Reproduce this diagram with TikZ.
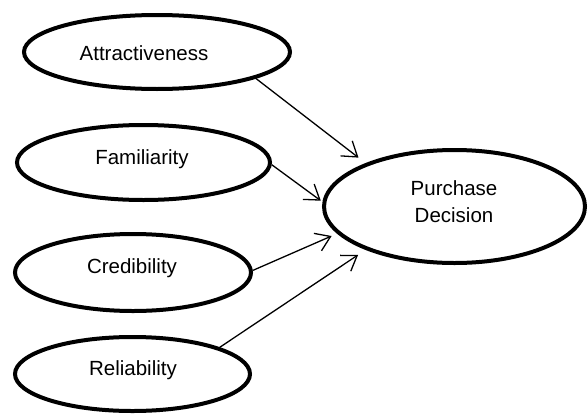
\documentclass[tikz,border=0pt]{standalone}
\usepackage{fontspec}
\setmainfont{Liberation Sans}
\usetikzlibrary{shapes.geometric,arrows.meta}
\begin{document}
\begin{tikzpicture}[x=1pt,y=-1pt,
  construct/.style={draw=black,line width=4pt,ellipse,inner sep=0pt},
  caption/.style={inner sep=0pt,anchor=base,font=\fontsize{20.5}{27}\selectfont},
  path/.style={draw=black,line width=1.3pt,
    -{Straight Barb[length=14pt,width=19pt,line width=1.3pt]}}]
  \useasboundingbox (0,0) rectangle (588,415);

  % exogenous constructs
  \node[construct,minimum width=266pt,minimum height=74pt] (A) at (157,52) {};
  \node[construct,minimum width=253pt,minimum height=75pt] (F) at (143.5,162.5) {};
  \node[construct,minimum width=236pt,minimum height=77pt] (C) at (133,272.5) {};
  \node[construct,minimum width=235pt,minimum height=74pt] (R) at (132.5,374) {};
  % endogenous construct
  \node[construct,minimum width=261pt,minimum height=113pt] (P) at (454.5,206.5) {};

  \node[caption] (tA) at (144,60) {Attractiveness};
  \node[caption] (tF) at (142,164) {Familiarity};
  \node[caption] (tC) at (132,273) {Credibility};
  \node[caption] (tR) at (133,375) {Reliability};
  \node[inner sep=0pt,align=center,font=\fontsize{20.5}{27}\selectfont] (tP)
    at (454,202) {Purchase\\Decision};

  % structural paths
  \draw[path,shorten >=9pt] (A.-15) -- (P.154.3);
  \draw[path,shorten >=2pt] (F.-1) -- (P.178.3);
  \draw[path,shorten >=6pt] (C.1) -- (P.-167.6);
  \draw[path,shorten >=9pt] (R.17) -- (P.-154.4);
\end{tikzpicture}
\end{document}
